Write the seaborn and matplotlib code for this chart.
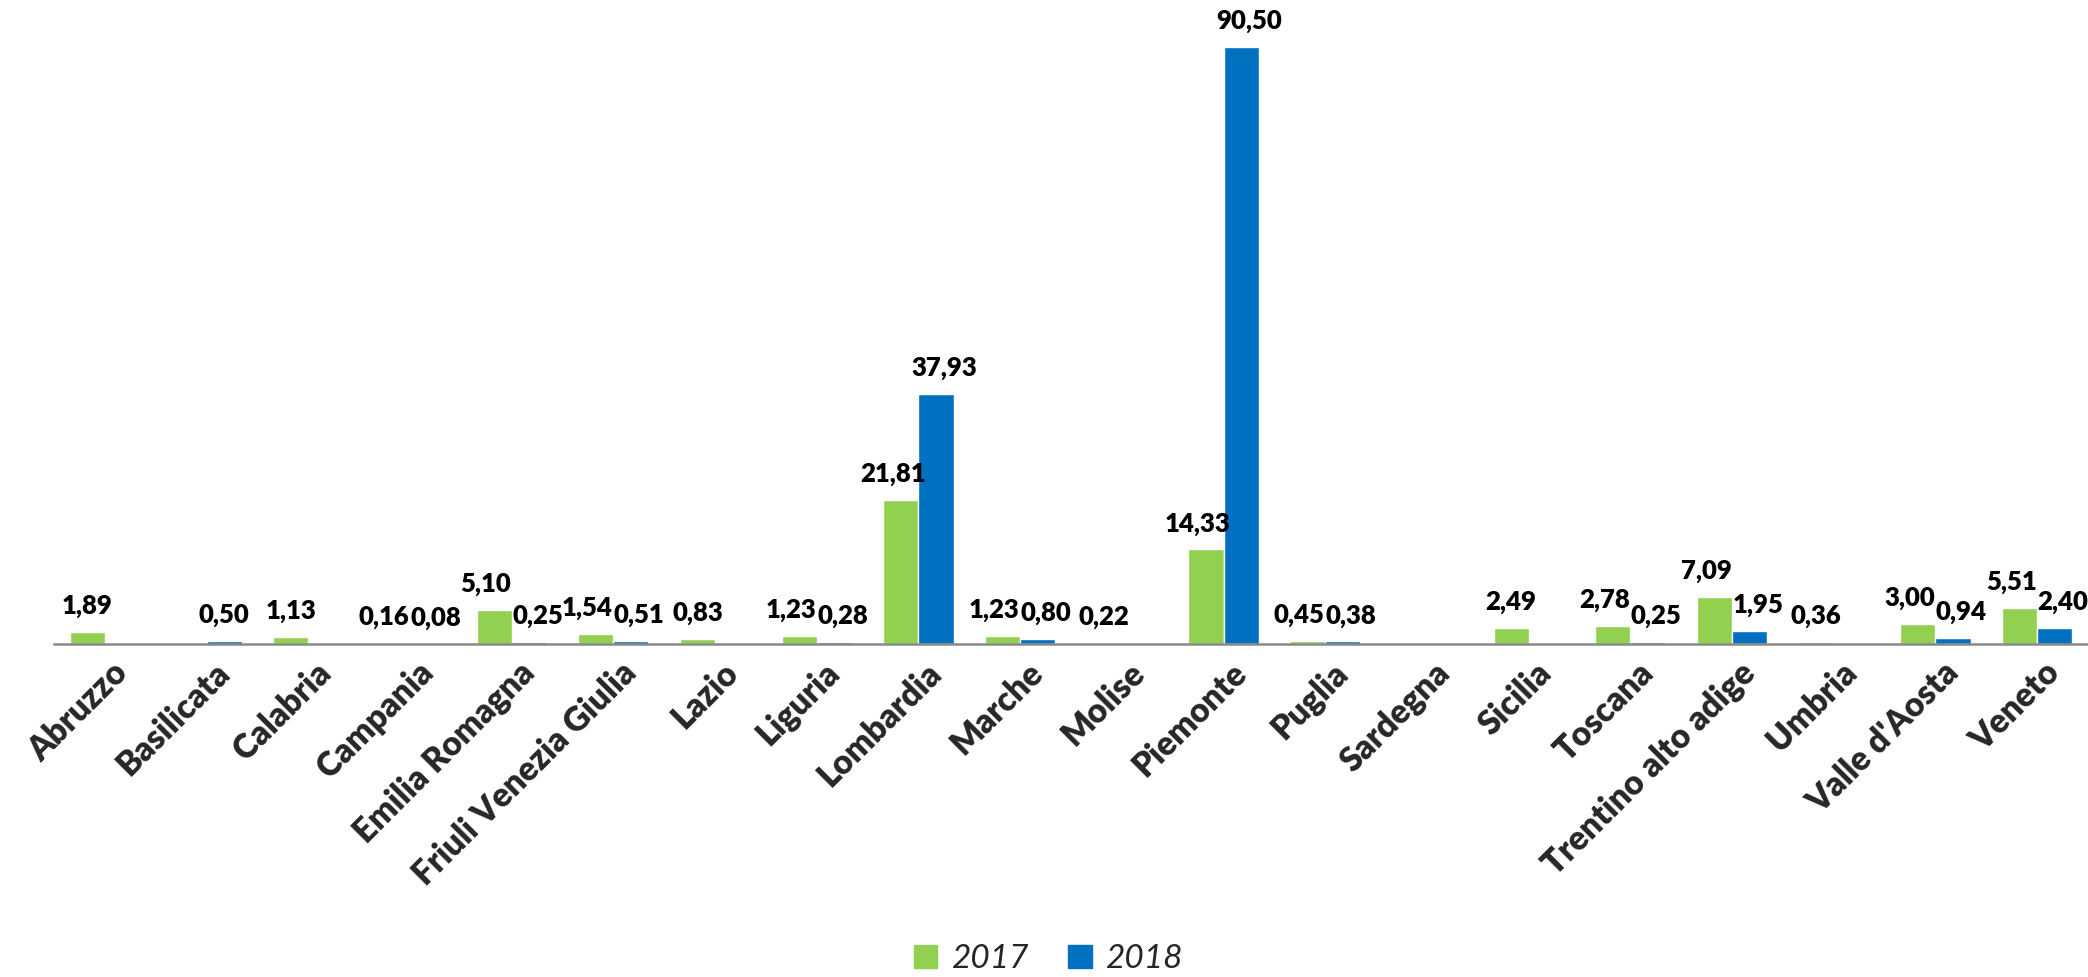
import numpy as np
import pandas as pd
import matplotlib
matplotlib.use("Agg")
import matplotlib.pyplot as plt
import matplotlib.transforms as mtransforms
import seaborn as sns

# regional values, nan where the region has no bar for that year
regions = ["Abruzzo", "Basilicata", "Calabria", "Campania", "Emilia Romagna",
           "Friuli Venezia Giulia", "Lazio", "Liguria", "Lombardia", "Marche",
           "Molise", "Piemonte", "Puglia", "Sardegna", "Sicilia", "Toscana",
           "Trentino alto adige", "Umbria", "Valle d'Aosta", "Veneto"]
values_2017 = [1.89, np.nan, 1.13, 0.16, 5.10, 1.54, 0.83, 1.23, 21.81, 1.23,
               0.22, 14.33, 0.45, np.nan, 2.49, 2.78, 7.09, 0.36, 3.00, 5.51]
values_2018 = [np.nan, 0.50, np.nan, 0.08, 0.25, 0.51, np.nan, 0.28, 37.93, 0.80,
               np.nan, 90.50, 0.38, np.nan, np.nan, 0.25, 1.95, np.nan, 0.94, 2.40]
years = ["2017", "2018"]
colors = ["#92D050", "#0070C0"]

df = pd.DataFrame({
    "Regione": regions * 2,
    "Anno": [years[0]] * len(regions) + [years[1]] * len(regions),
    "Valore": values_2017 + values_2018,
})

sns.set_style("white")
plt.rcParams["font.family"] = ["Lato", "DejaVu Sans"]

W, H = 2088, 977
fig = plt.figure(figsize=(W / 100, H / 100), dpi=100)
ax = fig.add_axes([54 / W, 1 - 644 / H, 1 - 54 / W, (644 - 20) / H])

sns.barplot(data=df, x="Regione", y="Valore", hue="Anno", order=regions,
            hue_order=years, palette=colors, width=0.69, gap=0,
            saturation=1, errorbar=None, legend=False, ax=ax)

# data labels; when a region has both bars the two labels are pushed apart
both = [not (np.isnan(a) or np.isnan(b)) for a, b in zip(values_2017, values_2018)]
for k, bars in enumerate(ax.containers):
    for p in bars:
        h = p.get_height()
        if np.isnan(h) or h <= 0:
            continue
        xc = p.get_x() + p.get_width() / 2
        i = int(round(xc))
        dx = (-6 if k == 0 else 6) if both[i] else 0
        ax.annotate(f"{h:.2f}".replace(".", ","), (xc, h),
                    xytext=(dx, 10), textcoords="offset points",
                    ha="center", va="bottom", fontsize=18.5, fontweight="heavy",
                    color="black", annotation_clip=False)

ax.set_xlim(-0.5, len(regions) - 0.5)
ax.set_ylim(0, 90.5 * 624 / 597)
ax.set_xlabel("")
ax.set_ylabel("")
ax.set_yticks([])

for s in ["top", "right", "left"]:
    ax.spines[s].set_visible(False)
ax.spines["bottom"].set_color("#898989")
ax.spines["bottom"].set_linewidth(1.8)

ax.set_xticks(np.arange(len(regions)))
ax.set_xticklabels(regions, rotation=45, ha="right", va="center",
                   rotation_mode="anchor", fontsize=24, fontweight="heavy")
ax.tick_params(axis="x", which="major", length=0, pad=17)
shift = mtransforms.ScaledTranslation(18 / 100, 0, fig.dpi_scale_trans)
for lbl in ax.get_xticklabels():
    lbl.set_transform(lbl.get_transform() + shift)
ax.set_xticks(np.arange(len(regions) + 1) - 0.5, minor=True)
ax.tick_params(axis="x", which="minor", length=9, width=1.8,
               color="#898989", direction="out")

handles = [plt.Rectangle((0, 0), 1, 1, color=c) for c in colors]
fig.legend(handles, years, loc="lower center", bbox_to_anchor=(0.502, -0.028),
           ncol=2, frameon=False, prop={"size": 24, "style": "italic"},
           handlelength=0.7, handleheight=0.7, handletextpad=0.4,
           columnspacing=1.2)

fig.savefig("out.png", dpi=100)
